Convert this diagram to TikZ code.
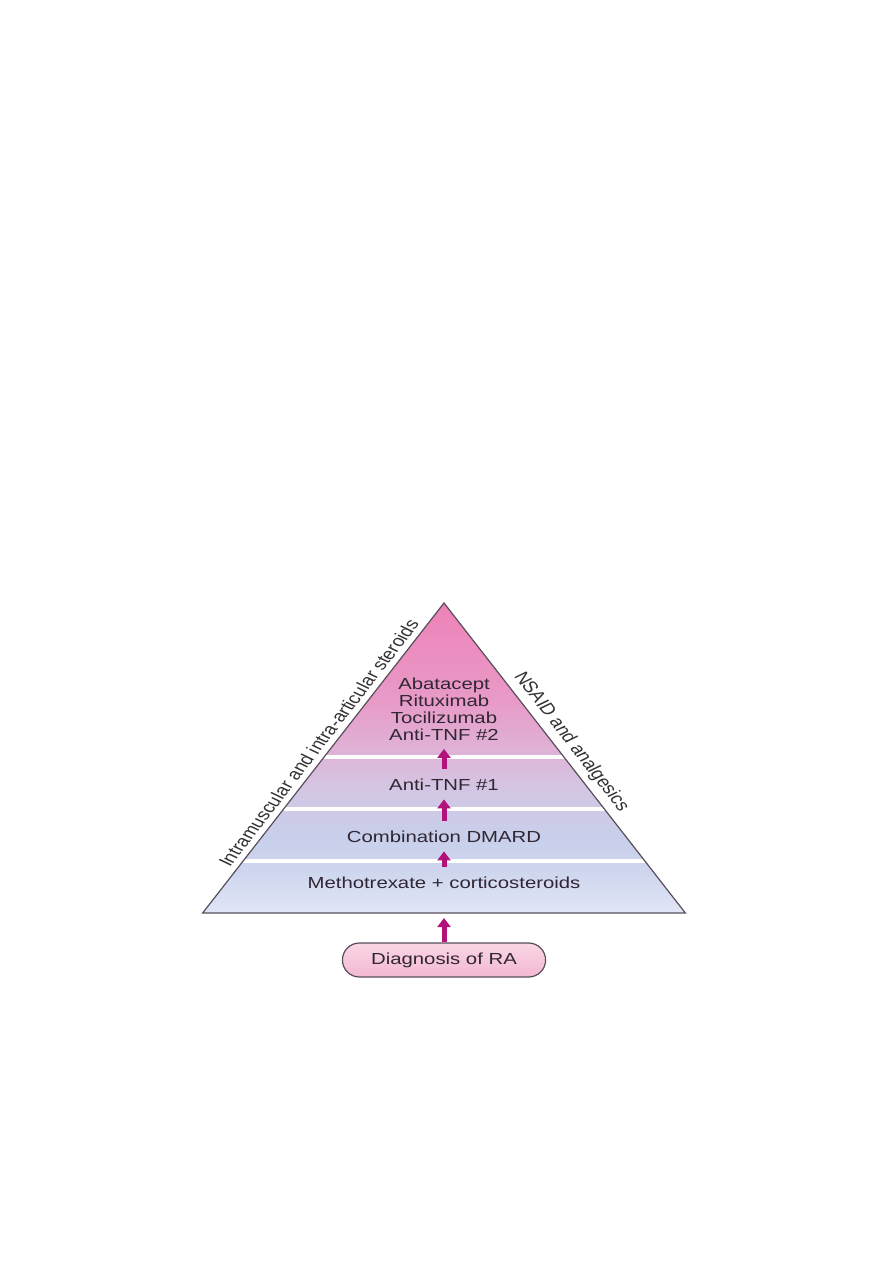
\documentclass[tikz,border=0pt]{standalone}
\usepackage{fontspec}
\setmainfont{Liberation Sans}
\usepackage{tikz}
\usetikzlibrary{arrows.meta,calc,positioning}
\definecolor{apexpink}{RGB}{238,130,184}
\definecolor{pband1}{RGB}{232,154,199}
\definecolor{pband1b}{RGB}{223,178,213}
\definecolor{pband2}{RGB}{211,198,228}
\definecolor{pband3}{RGB}{200,207,234}
\definecolor{pband4}{RGB}{206,214,239}
\definecolor{pbase}{RGB}{224,230,245}
\definecolor{tiergray}{RGB}{48,38,52}
\definecolor{sidegray}{RGB}{50,48,52}
\definecolor{outlinegray}{RGB}{88,78,90}
\definecolor{arrowmag}{RGB}{178,18,122}
\definecolor{pilltop}{RGB}{250,214,229}
\definecolor{pillbot}{RGB}{243,184,210}
\pgfdeclareverticalshading{pyramidshade}{100bp}{color(0bp)=(pbase); color(25bp)=(pbase); color(31.9bp)=(pband4); color(37.3bp)=(pband3); color(44.9bp)=(pband2); color(51.3bp)=(pband1b); color(59.4bp)=(pband1); color(75bp)=(apexpink); color(100bp)=(apexpink)}

\begin{document}
\begin{tikzpicture}[x=1pt,y=1pt,
    tiertext/.style={text=tiergray, font=\fontsize{16}{17}\selectfont, align=center},
    sidetext/.style={text=sidegray, font=\fontsize{16}{17}\selectfont, anchor=south, inner sep=5pt},
    startbox/.style={draw=outlinegray, line width=1.2pt, rounded corners=17pt, minimum width=160pt,
      minimum height=34pt, top color=pilltop, bottom color=pillbot, text=tiergray,
      font=\fontsize{16}{17}\selectfont},
    steparrow/.style={draw=arrowmag, line width=5pt, -{Triangle[width=13pt,length=9pt]},
      shorten <=7pt, shorten >=5pt},
    divider/.style={white, line width=3.5pt},
    outline/.style={draw=outlinegray, line width=1.2pt}]
  % Page frame
  \useasboundingbox (0,0) rectangle (893,-1263);
  \begin{scope}[xshift=444pt, xscale=1.27, transform shape]
    % Define coordinates
    \coordinate (apex) at (0,-603);
    \coordinate (bl) at (-190,-913);
    \coordinate (br) at (190,-913);
    \coordinate (basemid) at (0,-913);
    % Pyramid body
    \shade[shading=pyramidshade] (apex) -- (bl) -- (br) -- cycle;
    % White dividers between tiers
    \foreach \t in {0.497,0.665,0.832}
      \draw[divider] ($(apex)!\t!(bl)$) -- ($(apex)!\t!(br)$);
    % Outline
    \draw[outline] (apex) -- (bl) -- (br) -- cycle;
    % Tier labels
    \node[tiertext] (biologics) at (0,-709) {Abatacept\\Rituximab\\Tocilizumab\\Anti-TNF \#2};
    \node[tiertext] (tnf1) at (0,-785) {Anti-TNF \#1};
    \node[tiertext] (dmard) at (0,-837) {Combination DMARD};
    \node[tiertext] (mtx) at (0,-883) {Methotrexate + corticosteroids};
    % Side labels
    \node[sidetext, rotate=58.5] (steroids) at ($(apex)!0.47!(bl)$) {Intramuscular and intra-articular steroids};
    \node[sidetext, rotate=-58.5] (nsaid) at ($(apex)!0.47!(br)$) {NSAID and analgesics};
    % Start box
    \node[startbox] (diag) at (0,-960) {Diagnosis of RA};
    % Arrows between tiers
    \draw[steparrow] (tnf1.north) -- (biologics.south);
    \draw[steparrow] (dmard.north) -- (tnf1.south);
    \draw[steparrow] (mtx.north) -- (dmard.south);
    \draw[steparrow, shorten <=0pt] (diag.north) -- (basemid);
  \end{scope}
\end{tikzpicture}
\end{document}
